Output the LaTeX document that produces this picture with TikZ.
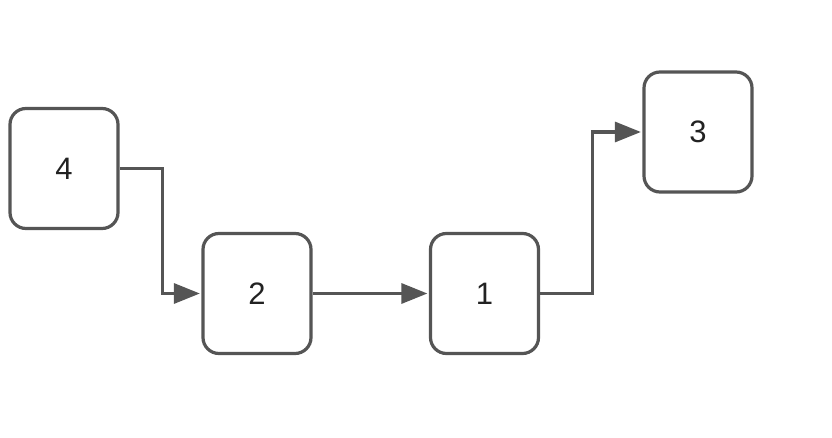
\documentclass[tikz,border=0pt]{standalone}
\usepackage{fontspec}
\setmainfont{Liberation Sans}
\usetikzlibrary{arrows.meta}
\definecolor{linegray}{HTML}{555555}
\definecolor{textgray}{HTML}{222222}
\begin{document}
\begin{tikzpicture}[x=1pt,y=-1pt,
  box/.style={draw=linegray, line width=3.2pt, rounded corners=16pt, minimum width=108pt, minimum height=120pt, inner sep=0pt, fill=white, text=textgray, font=\fontsize{31}{36}\selectfont},
  conn/.style={draw=linegray, line width=3.2pt, -{Triangle[length=26pt,width=20pt]}, shorten >=1.5pt}]
\useasboundingbox (0,0) rectangle (832,438);
\node[box] (n4) at (64,168.5) {4};
\node[box] (n2) at (257,293.5) {2};
\node[box] (n1) at (484.5,293.5) {1};
\node[box] (n3) at (698,132) {3};
\draw[conn] (n4.east) -- ++(43,0) |- (n2.west);
\draw[conn] (n2.east) -- (n1.west);
\draw[conn] (n1.east) -- ++(52,0) |- (n3.west);
\end{tikzpicture}
\end{document}
